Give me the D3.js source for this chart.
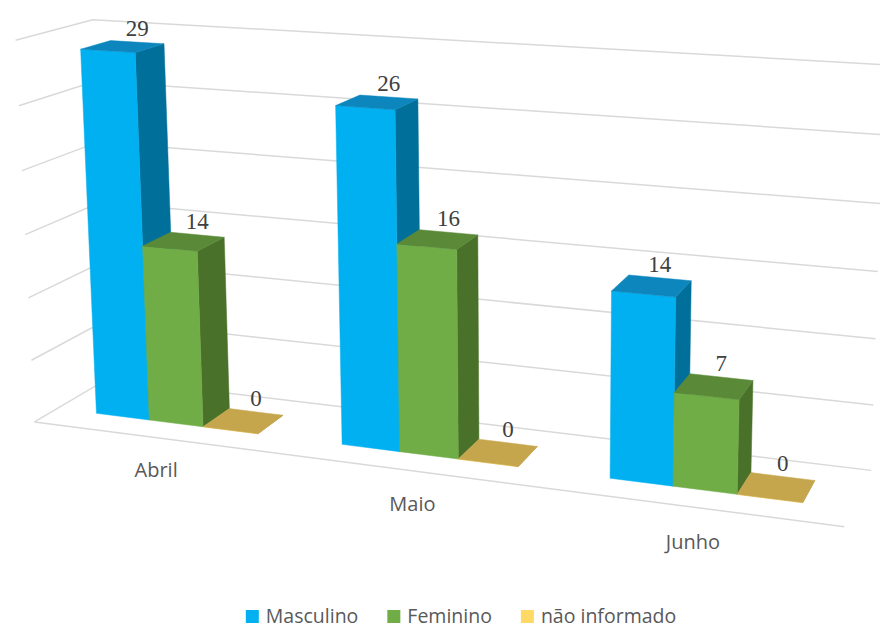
<!DOCTYPE html>
<html><head><meta charset="utf-8">
<script src="https://cdn.jsdelivr.net/npm/d3@7"></script>
<style>body{margin:0;background:#fff}</style></head>
<body><svg id="c" width="880" height="630"></svg>
<script>
const categories = ["Abril","Maio","Junho"];
const seriesNames = ["Masculino","Feminino","não informado"];
const masculino = [29,26,14];
const feminino = [14,16,7];
const naoInformado = [0,0,0];
const yTicks = [0,5,10,15,20,25,30];

const frontColors = ["#00B0F0","#70AD47","#FFD966"];
const topColors   = ["#0C86BD","#5A8A38","#C6A64C"];
const sideColors  = ["#00709A","#4A7129","#A68B3C"];

// perspective camera (3x4 projective matrix): world (x, y, z) -> screen
const camera = [
  [234.3227, -19.50441, 80.35546, 34.50923],
  [12.71363, -383.1788, -18.48633, 421.9309],
  [-0.04217117, -0.03647939, 0.065317, 1]
];
function project(X,Y,Z){
  const w = camera[2][0]*X + camera[2][1]*Y + camera[2][2]*Z + camera[2][3];
  return [(camera[0][0]*X + camera[0][1]*Y + camera[0][2]*Z + camera[0][3])/w,
          (camera[1][0]*X + camera[1][1]*Y + camera[1][2]*Z + camera[1][3])/w];
}

const x = d3.scaleBand().domain(categories).range([0,3]).padding(0);
const xs = d3.scaleBand().domain(seriesNames).range([0,1]).paddingInner(0).paddingOuter(0.75);
const y = d3.scaleLinear().domain([0,30]).range([0,1]);
const zFront = 0.3, zBack = 0.7;

const svg = d3.select("#c");
const line = d3.line();

// gridlines: left wall + back wall
const grid = svg.append("g").attr("fill","none").attr("stroke","#D9D9D9").attr("stroke-width",1.5);
grid.selectAll("path.g").data(yTicks).join("path").attr("class","g")
  .attr("d", t => line([project(0,y(t),0), project(0,y(t),1), project(3,y(t),1)]));
grid.append("path").attr("d", line([project(0,y(0),0), project(3,y(0),0)]));

// bars
const seriesValues = [masculino, feminino, naoInformado];
const bars = svg.append("g");
const labels = svg.append("g").attr("font-family","Liberation Serif").attr("font-size",23)
  .attr("fill","#404040").attr("text-anchor","middle");
categories.forEach((c,i) => {
  seriesNames.forEach((s,j) => {
    const v = seriesValues[j][i];
    const x0 = x(c) + xs(s), x1 = x0 + xs.bandwidth(), h = y(v);
    const faces = [
      [[x1,0,zFront],[x1,0,zBack],[x1,h,zBack],[x1,h,zFront], sideColors[j]],
      [[x0,0,zFront],[x1,0,zFront],[x1,h,zFront],[x0,h,zFront], frontColors[j]],
      [[x0,h,zFront],[x1,h,zFront],[x1,h,zBack],[x0,h,zBack], topColors[j]]
    ];
    faces.forEach(f => {
      bars.append("path").attr("d", line(f.slice(0,4).map(p => project(...p))) + "Z")
        .attr("fill", f[4]).attr("stroke", f[4]).attr("stroke-width", 0.5);
    });
    const p = project(x0 + xs.bandwidth()/2, h, zBack);
    labels.append("text").attr("x", p[0]).attr("y", p[1] - 6).text(v);
  });
});

// category labels
svg.append("g").attr("font-family","Open Sans").attr("font-size",20).attr("fill","#595959")
  .attr("text-anchor","middle").attr("dominant-baseline","central")
  .selectAll("text").data(categories).join("text")
  .each(function(c){ const p = project(x(c) + x.bandwidth()/2, y(-2.55), 0); d3.select(this).attr("x",p[0]).attr("y",p[1]); })
  .text(c => c);

// legend
const legend = svg.append("g");
const items = legend.selectAll("g").data(seriesNames).join("g");
items.append("rect").attr("width",13).attr("height",13).attr("y",610).attr("fill",(d,i)=>frontColors[i]);
items.append("text").attr("x",20).attr("y",623).attr("font-family","Open Sans").attr("font-size",19.5)
  .attr("fill","#595959").text(d => d);
let widths = [];
items.each(function(){ widths.push(20 + d3.select(this).select("text").node().getComputedTextLength()); });
const gap = 29;
const total = d3.sum(widths) + gap*(widths.length-1);
let cx = 461 - total/2;
items.each(function(d,i){ d3.select(this).attr("transform", `translate(${cx},0)`); cx += widths[i] + gap; });
</script></body></html>
